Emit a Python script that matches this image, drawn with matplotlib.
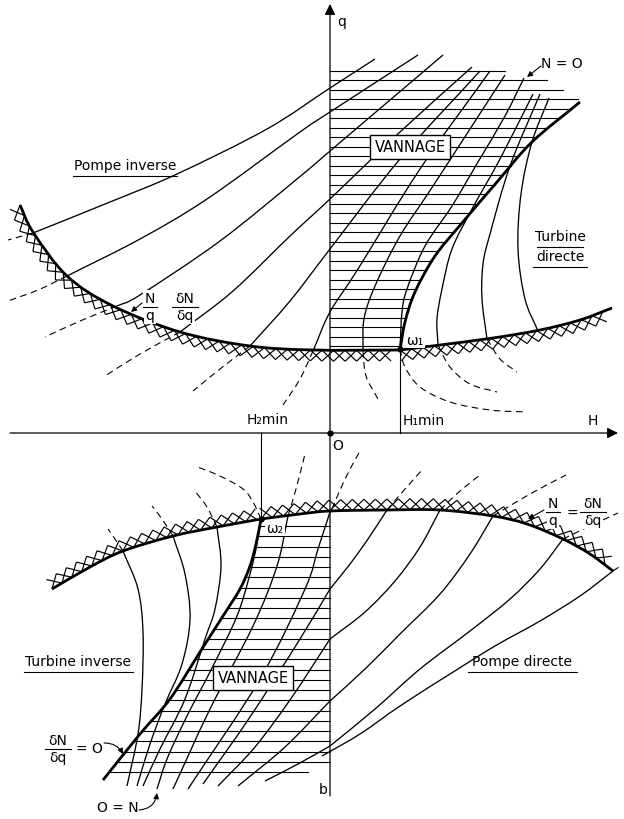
import numpy as np
import matplotlib
matplotlib.use("Agg")
import matplotlib.pyplot as plt
from matplotlib.path import Path
from matplotlib.patches import PathPatch
from matplotlib.collections import LineCollection

plt.rcParams['font.family'] = ['DejaVu Sans']

# ---------------- data (picture coordinates: x right, y down) ----------------
origin = (330, 434)
omega1 = (400, 350)
omega2 = (261, 520)

# upper half: limit curve (hatched below) and gate edge
top_bound_left = [(20, 206), (33, 233), (67, 277), (113, 307), (180, 333), (250, 347), (313, 351), (400, 351)]
top_bound_right = [(400, 351), (440, 346), (493, 339), (540, 331), (580, 321), (612, 309)]
top_gate_edge = [(400, 351), (405, 323), (415, 293), (435, 257), (462, 224), (497, 183), (532, 143), (580, 103)]
top_row_ends = [505, 547, 563, 578]

# upper half iso-lines
c1 = [(33, 234), (110, 203), (177, 175), (267, 130), (330, 89), (375, 60)]
c2 = [(67, 277), (140, 240), (207, 200), (300, 133), (330, 113), (418, 56)]
c3 = [(117, 307), (140, 296), (220, 242), (297, 180), (330, 152), (443, 56)]
c4 = [(180, 333), (233, 292), (290, 237), (330, 200), (400, 133), (472, 68)]
c5 = [(250, 347), (290, 302), (330, 250), (400, 160), (480, 72)]
c6 = [(313, 352), (330, 313), (358, 270), (420, 170), (490, 72)]
c7 = [(363, 352), (364, 320), (375, 287), (400, 237), (433, 187), (505, 76)]
c8 = [(400, 350), (402, 313), (407, 290), (425, 247), (452, 207), (478, 163), (505, 117), (524, 79)]
t1 = [(438, 346), (437, 320), (442, 290), (452, 250), (472, 210), (500, 160), (533, 95)]
t2 = [(487, 340), (482, 300), (483, 265), (490, 235), (510, 167), (540, 95)]
t3 = [(538, 332), (525, 300), (518, 250), (521, 195), (532, 143), (549, 99)]
top_lines = [c1, c2, c3, c4, c5, c6, c7, c8, t1, t2, t3]

# upper half dashed continuations
d1 = [(33, 234), (8, 241)]
d2 = [(67, 277), (38, 291), (8, 302)]
d3 = [(117, 307), (80, 322), (45, 338)]
d4 = [(180, 333), (140, 355), (105, 377)]
d5 = [(250, 347), (220, 370), (193, 392)]
d6 = [(313, 352), (300, 380), (283, 406)]
d7 = [(363, 352), (366, 377), (378, 400)]
d8 = [(400, 350), (405, 368), (420, 388), (450, 403), (490, 411), (527, 413)]
d9 = [(438, 346), (450, 368), (470, 385), (497, 393)]
d10 = [(487, 340), (500, 360), (517, 373)]
top_dashed = [d1, d2, d3, d4, d5, d6, d7, d8, d9, d10]

# lower half: limit curve (hatched above) and gate edge
bot_bound_left = [(52, 590), (90, 568), (123, 552), (173, 537), (217, 528), (261, 520)]
bot_bound_right = [(261, 520), (300, 515), (330, 512), (387, 511), (440, 511), (493, 517),
                   (527, 525), (563, 540), (590, 555), (613, 572)]
bot_gate_edge = [(261, 520), (256, 545), (250, 567), (240, 590), (223, 617), (200, 653),
                 (170, 700), (140, 735), (103, 781)]

# lower half iso-lines (turbine inverse side and gate region)
ti1 = [(123, 552), (138, 590), (143, 633), (142, 690), (138, 735), (127, 787)]
ti2 = [(173, 537), (185, 575), (190, 620), (182, 665), (165, 705), (150, 745), (137, 787)]
ti3 = [(217, 528), (221, 567), (215, 610), (205, 640), (185, 700), (160, 750), (143, 787)]
n0 = [(261, 520), (257, 545), (250, 575), (237, 617), (213, 667), (187, 717), (167, 760), (157, 790)]
la = [(288, 517), (277, 567), (253, 627), (210, 710), (173, 790)]
lb = [(330, 513), (318, 550), (305, 590), (260, 680), (188, 790)]
ga = [(330, 590), (300, 640), (250, 718), (203, 785)]
gb = [(330, 640), (292, 698), (255, 748), (218, 787)]
gc = [(330, 702), (285, 748), (238, 787)]
gd = [(330, 747), (298, 765), (265, 782)]
# pompe directe side
pa = [(387, 511), (368, 540), (350, 565), (330, 590)]
pb = [(440, 511), (420, 548), (395, 582), (365, 613), (330, 640)]
pc = [(493, 517), (470, 555), (440, 595), (400, 635), (365, 670), (330, 702)]
pd = [(563, 540), (540, 570), (510, 600), (470, 632), (420, 670), (375, 710), (330, 747)]
pe = [(613, 572), (580, 597), (540, 622), (495, 647), (450, 675), (400, 707), (360, 735), (322, 757)]
bot_lines = [ti1, ti2, ti3, n0, la, lb, ga, gb, gc, gd, pa, pb, pc, pd, pe]

# lower half dashed continuations
e1 = [(123, 552), (115, 540), (108, 530)]
e2 = [(173, 537), (162, 520), (152, 507)]
e3 = [(217, 528), (207, 508), (195, 492)]
e4 = [(261, 520), (253, 503), (243, 490), (220, 477), (195, 467)]
e5 = [(288, 517), (296, 490), (305, 455)]
e6 = [(332, 510), (345, 480), (360, 452)]
e7 = [(387, 511), (405, 490), (423, 470)]
e8 = [(440, 511), (460, 492), (480, 476)]
e9 = [(493, 517), (530, 495), (566, 476)]
e10 = [(563, 540), (590, 527), (618, 514)]
e11 = [(613, 572), (622, 566)]
bot_dashed = [e1, e2, e3, e4, e5, e6, e7, e8, e9, e10, e11]

# ---------------- drawing ----------------
fig = plt.figure(figsize=(6.24, 8.2), dpi=100)
ax = fig.add_axes([0, 0, 1, 1])
ax.set_xlim(0, 624)
ax.set_ylim(820, 0)
ax.axis('off')

K = 'black'


def catmull(pts):
    p = np.asarray(pts, float)
    if len(p) == 2:
        return Path(p, [Path.MOVETO, Path.LINETO])
    ext = np.vstack([2 * p[0] - p[1], p, 2 * p[-1] - p[-2]])
    verts = [p[0]]
    codes = [Path.MOVETO]
    for i in range(1, len(ext) - 2):
        p0, p1, p2, p3 = ext[i - 1], ext[i], ext[i + 1], ext[i + 2]
        verts += [p1 + (p2 - p0) / 6, p2 - (p3 - p1) / 6, p2]
        codes += [Path.CURVE4] * 3
    return Path(np.array(verts), codes)


def dense(pts):
    return catmull(pts).to_polygons(closed_only=False)[0]


def draw(pts, lw=0.9, ls='-', z=3):
    ax.add_patch(PathPatch(catmull(pts), fc='none', ec=K, lw=lw, ls=ls,
                           zorder=z, capstyle='butt', joinstyle='round'))


def crosses(pts, side, step=11.5, h=11.0):
    poly = dense(pts)
    seg = np.hypot(*np.diff(poly, axis=0).T)
    s = np.concatenate([[0], np.cumsum(seg)])
    ss = np.arange(0, s[-1] + 0.01, step)
    xs = np.interp(ss, s, poly[:, 0])
    ys = np.interp(ss, s, poly[:, 1])
    tx = np.gradient(xs)
    ty = np.gradient(ys)
    nn = np.hypot(tx, ty)
    nx, ny = -ty / nn * side, tx / nn * side
    segs = []
    for i in range(len(xs) - 1):
        segs.append([(xs[i], ys[i]), (xs[i + 1] + nx[i + 1] * h, ys[i + 1] + ny[i + 1] * h)])
        segs.append([(xs[i + 1], ys[i + 1]), (xs[i] + nx[i] * h, ys[i] + ny[i] * h)])
    ax.add_collection(LineCollection(segs, colors=K, lw=0.85, zorder=3))


# axes
ax.annotate('', xy=(330, 5), xytext=(330, 797),
            arrowprops=dict(arrowstyle='-|>', lw=0.9, color=K, mutation_scale=16,
                            shrinkA=0, shrinkB=0), zorder=4)
ax.annotate('', xy=(618, 434), xytext=(10, 434),
            arrowprops=dict(arrowstyle='-|>', lw=0.9, color=K, mutation_scale=16,
                            shrinkA=0, shrinkB=0), zorder=4)
ax.plot([omega1[0], omega1[0]], [omega1[1], origin[1]], color=K, lw=0.8)
ax.plot([omega2[0], omega2[0]], [origin[1], omega2[1]], color=K, lw=0.8)
for p in (origin, omega1, omega2):
    ax.plot(*p, 'o', color=K, ms=3.5, zorder=6)

# hatching of gate regions
gp = dense(top_gate_edge)
o = np.argsort(gp[:, 1])
for k, y in enumerate(np.linspace(72, 347, 30)):
    xe = top_row_ends[k] if (k < len(top_row_ends) and y < 103) else np.interp(y, gp[o, 1], gp[o, 0])
    ax.plot([330, xe], [y, y], color=K, lw=0.8, zorder=2)

bp = dense(bot_gate_edge)
o = np.argsort(bp[:, 1])
rows = np.linspace(527, 773, 25)
for k, y in enumerate(rows):
    xs = np.interp(y, bp[o, 1], bp[o, 0])
    xe = 308 if k == len(rows) - 1 else 330
    ax.plot([xs, xe], [y, y], color=K, lw=0.8, zorder=2)

# boundaries
for b, side in ((top_bound_left, 1), (top_bound_right, 1), (bot_bound_left, -1), (bot_bound_right, -1)):
    draw(b, lw=2.0, z=4)
    crosses(b, side)
draw(top_gate_edge, lw=2.0, z=4)
draw(bot_gate_edge, lw=2.0, z=4)

for ln in top_lines + bot_lines:
    draw(ln, lw=0.95)
for ln in top_dashed + bot_dashed:
    draw(ln, lw=0.8, ls=(0, (6, 4)))

# ---------------- text ----------------
FS = 10
WHITE = dict(boxstyle='square,pad=0.1', fc='white', ec='none')


def label(x, y, s, ha='center', fs=FS, bg=False, **kw):
    ax.text(x, y, s, ha=ha, va='center', fontsize=fs, color=K, zorder=7,
            bbox=WHITE if bg else None, **kw)


def underlined(x, y, s, x0, x1):
    label(x, y, s)
    ax.plot([x0, x1], [y + 11, y + 11], color=K, lw=0.8, zorder=7)


def frac(xc, yl, num, den, w, bg=True):
    ax.text(xc, yl - 1.5, num, ha='center', va='bottom', fontsize=FS, zorder=7,
            bbox=WHITE if bg else None)
    ax.text(xc, yl + 1.5, den, ha='center', va='top', fontsize=FS, zorder=7,
            bbox=WHITE if bg else None)
    ax.plot([xc - w / 2, xc + w / 2], [yl, yl], color=K, lw=0.8, zorder=8)


def arrow(x0, y0, x1, y1, rad=0.0):
    ax.annotate('', xy=(x1, y1), xytext=(x0, y0), zorder=8,
                arrowprops=dict(arrowstyle='-|>', lw=0.8, color=K, mutation_scale=8,
                                shrinkA=0, shrinkB=0, connectionstyle=f'arc3,rad={rad}'))


label(337, 22, 'q', ha='left')
underlined(125, 166, 'Pompe inverse', 73, 177)
ax.text(410, 148, 'VANNAGE', ha='center', va='center', fontsize=10.5, zorder=7,
        bbox=dict(boxstyle='square,pad=0.3', fc='white', ec=K, lw=1.0))
label(562, 64, 'N = O', bg=True)
arrow(541, 67, 527, 78)
underlined(560, 237, 'Turbine', 537, 583)
underlined(560, 257, 'directe', 533, 587)
label(406, 341, 'ω₁', ha='left', bg=True)
frac(150, 308, 'N', 'q', 14)
frac(185, 308, 'δN', 'δq', 26)
arrow(142, 304, 131, 313)
label(268, 420, 'H₂min')
label(403, 421, 'H₁min', ha='left')
label(593, 421, 'H')
label(338, 446, 'O')

label(266, 529, 'ω₂', ha='left', bg=True)
frac(553, 513, 'N', 'q', 14)
label(572, 514, '=', bg=True)
frac(593, 513, 'δN', 'δq', 26)
arrow(544, 511, 528, 520)
underlined(78, 662, 'Turbine inverse', 24, 133)
ax.text(253, 679, 'VANNAGE', ha='center', va='center', fontsize=10.5, zorder=7,
        bbox=dict(boxstyle='square,pad=0.3', fc='white', ec=K, lw=1.0))
underlined(522, 662, 'Pompe directe', 468, 577)
frac(58, 750, 'δN', 'δq', 26, bg=False)
label(89, 749, '= O')
arrow(104, 744, 123, 755, rad=-0.3)
label(118, 808, 'O = N')
arrow(139, 811, 157, 794, rad=0.4)
label(323, 790, 'b', bg=True)

fig.savefig('out.png', dpi=100)
